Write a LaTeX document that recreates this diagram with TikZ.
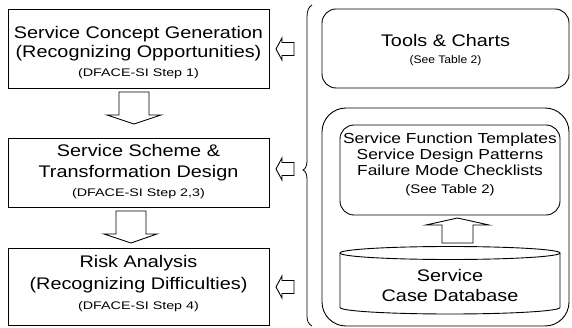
\documentclass[tikz,border=0pt]{standalone}
\usepackage{fontspec}
\setmainfont{Liberation Sans}
\newfontfamily\bigf{Liberation Sans}[FakeStretch=1.18]
\newfontfamily\stepf{Liberation Sans}[FakeStretch=1.3]
\newfontfamily\midf{Liberation Sans}[FakeStretch=1.2]
\newfontfamily\seef{Liberation Sans}[FakeStretch=1.1]
\usetikzlibrary{calc}
\tikzset{
  box/.style={draw, line width=0.9pt, inner sep=0pt},
  rbox/.style={draw, line width=0.9pt, inner sep=0pt, rounded corners=14pt},
  blockarrow/.style={draw, line width=0.9pt, fill=white, line join=miter},
  title/.style={anchor=base, inner sep=0pt, font=\bigf\fontsize{16.8}{20}\selectfont},
  stepnote/.style={anchor=base, inner sep=0pt, font=\stepf\fontsize{11}{13}\selectfont},
  seenote/.style={anchor=base, inner sep=0pt, font=\seef\fontsize{11}{13}\selectfont},
  kblist/.style={anchor=base, inner sep=0pt, font=\midf\fontsize{14.5}{16}\selectfont},
  kbnote/.style={anchor=base, inner sep=0pt, font=\midf\fontsize{12.5}{15}\selectfont},
}
\begin{document}
\begin{tikzpicture}[x=1pt, y=-1pt]
\useasboundingbox (0,0) rectangle (572,328);

% ---- process steps (left column) ----
\node[box, minimum width=261pt, minimum height=79pt] (s1) at (138.5,48.5) {};
\node[box, minimum width=261pt, minimum height=69pt] (s2) at (138.5,172.5) {};
\node[box, minimum width=261pt, minimum height=77pt] (s3) at (138.5,286.5) {};

\node[title] (s1a) at (138.5,39) {Service Concept Generation};
\node[title] (s1b) at (138.5,58) {(Recognizing Opportunities)};
\node[stepnote] (s1c) at (138.5,77) {(DFACE-SI Step 1)};

\node[title] (s2a) at (138.5,157) {Service Scheme \&};
\node[title] (s2b) at (138.5,178) {Transformation Design};
\node[stepnote] (s2c) at (138.5,197) {(DFACE-SI Step 2,3)};

\node[title] (s3a) at (138.5,268) {Risk Analysis};
\node[title] (s3b) at (138.5,289) {(Recognizing Difficulties)};
\node[stepnote] (s3c) at (138.5,309) {(DFACE-SI Step 4)};

% ---- block arrows between the steps ----
\draw[blockarrow] (119,92) -- (149,92) -- (149,115) -- (161,115) -- (134,124)
  -- (107,115) -- (119,115) -- cycle;
\draw[blockarrow] (116,211) -- (146,211) -- (146,234) -- (157,234) -- (131,243)
  -- (104,234) -- (116,234) -- cycle;

% ---- block arrows from the knowledge side ----
\foreach \yc in {49,169,287}{
  \draw[blockarrow] (276,\yc) -- (282,\yc-11) -- (282,\yc-6.5) -- (294,\yc-6.5)
    -- (294,\yc+6.5) -- (282,\yc+6.5) -- (282,\yc+11) -- cycle;
}

% ---- brace grouping the knowledge sources ----
\draw[line width=0.8pt] (312,5) .. controls (308.5,7) and (307,11) .. (307,17)
  -- (307,161) .. controls (307,165.5) and (305.5,169) .. (303,170)
  .. controls (305.5,171) and (307,174.5) .. (307,179)
  -- (307,316) .. controls (307,321) and (308.5,324) .. (312,326);

% ---- tools and charts ----
\node[rbox, minimum width=247pt, minimum height=79pt] (tc) at (445.5,48.5) {};
\node[title] (tca) at (445.5,47) {Tools \& Charts};
\node[seenote] (tcb) at (445.5,64) {(See Table 2)};

% ---- knowledge base ----
\node[rbox, rounded corners=24pt, minimum width=247pt, minimum height=218pt] (kb) at (445.5,217) {};
\node[rbox, minimum width=220pt, minimum height=90pt] (tp) at (450,170) {};
\node[kblist] (tpa) at (450,144) {Service Function Templates};
\node[kblist] (tpb) at (450,160) {Service Design Patterns};
\node[kblist] (tpc) at (450,176) {Failure Mode Checklists};
\node[kbnote] (tpd) at (450,194) {(See Table 2)};

\draw[blockarrow] (442,243) -- (442,225) -- (426,225) -- (457.5,218) -- (489,225)
  -- (473,225) -- (473,243) -- cycle;

% case database cylinder
\draw[line width=0.9pt] (340,253) -- (340,307.5) arc[start angle=180, end angle=360, x radius=110pt, y radius=6.5pt]
  -- (560,253);
\draw[line width=0.9pt] (450,253) ellipse[x radius=110pt, y radius=6.5pt];
\node[title] (dba) at (450,281) {Service};
\node[title] (dbb) at (450,301) {Case Database};
\end{tikzpicture}
\end{document}
